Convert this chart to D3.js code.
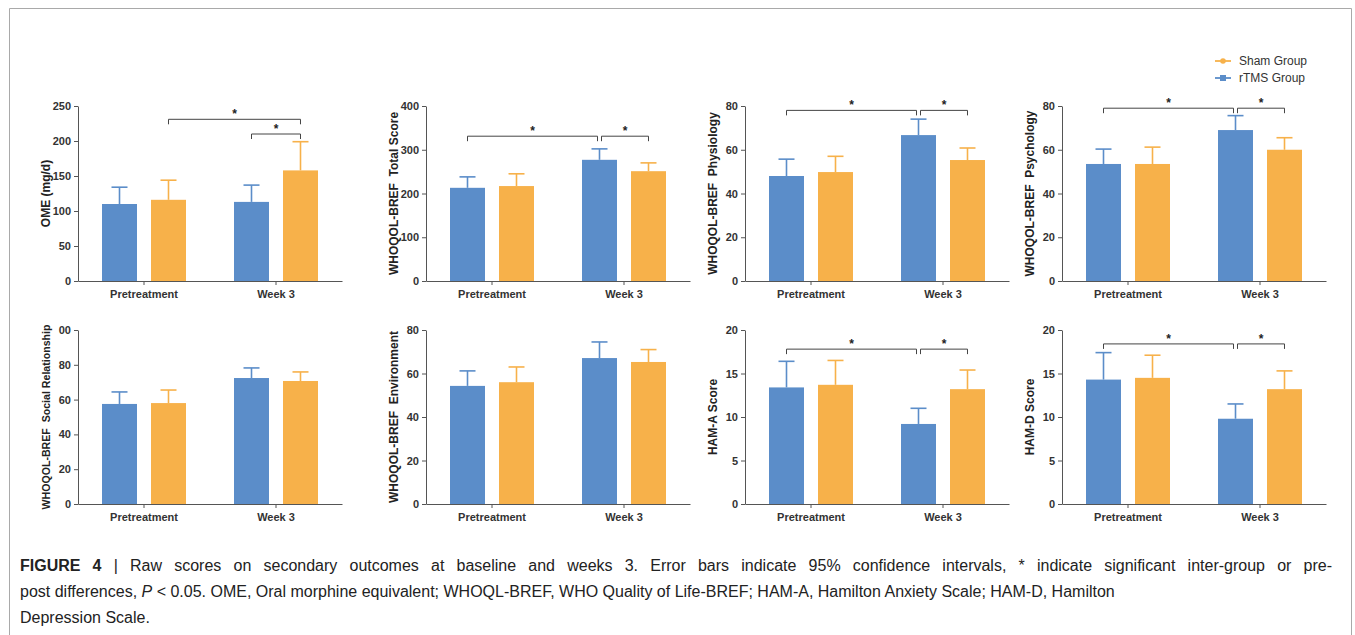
<!DOCTYPE html>
<html>
<head>
<meta charset="utf-8">
<script src="https://cdn.jsdelivr.net/npm/d3@7"></script>
<style>
  body { margin: 0; background: #fff; }
  svg { display: block; font-family: "Liberation Sans", Arial, sans-serif; }
  .tick text { font-weight: bold; font-size: 11px; fill: #333; }
  .domain, .tick line { stroke: #555; }
</style>
</head>
<body>
<svg id="fig" width="1355" height="635"></svg>
<script>
// categories and series
const categories = ["Pretreatment", "Week 3"];
const seriesNames = ["rTMS Group", "Sham Group"];
const seriesColors = ["#5b8dc9", "#f7b14a"];

// one entry per panel, left to right, top to bottom
const yTitles = ["OME (mg/d)", "WHOQOL-BREF  Total Score", "WHOQOL-BREF  Physiology", "WHOQOL-BREF  Psychology",
                 "WHOQOL-BREF  Social Relationship", "WHOQOL-BREF  Environment", "HAM-A Score", "HAM-D Score"];
const yMax = [250, 400, 80, 80, 100, 80, 20, 20];
const yTickValues = [
    [0, 50, 100, 150, 200, 250],
    [0, 100, 200, 300, 400],
    [0, 20, 40, 60, 80],
    [0, 20, 40, 60, 80],
    [0, 20, 40, 60, 80, 100],
    [0, 20, 40, 60, 80],
    [0, 5, 10, 15, 20],
    [0, 5, 10, 15, 20]
];
const yTickLabels = [
    ["0", "50", "100", "150", "200", "250"],
    ["0", "100", "200", "300", "400"],
    ["0", "20", "40", "60", "80"],
    ["0", "20", "40", "60", "80"],
    ["0", "20", "40", "60", "80", "00"],
    ["0", "20", "40", "60", "80"],
    ["0", "5", "10", "15", "20"],
    ["0", "5", "10", "15", "20"]
];

// means [Pretreatment, Week 3]
const rtmsMean  = [[110, 113], [213, 277], [48, 66.7], [53.5, 69], [57.5, 72.4], [54.3, 67.1], [13.4, 9.2], [14.3, 9.8]];
const rtmsUpper = [[134, 137], [238, 302], [55.7, 74], [60.3, 75.6], [64.4, 78.2], [61.2, 74.5], [16.4, 11], [17.4, 11.5]];
const shamMean  = [[116, 158], [217, 251], [49.8, 55.3], [53.5, 60], [58, 70.7], [56, 65.3], [13.7, 13.2], [14.5, 13.2]];
const shamUpper = [[144, 199], [245, 270], [57, 60.8], [61.2, 65.5], [65.5, 75.9], [63, 71], [16.5, 15.4], [17.1, 15.3]];

// significance brackets: from [category, series] to [category, series] at height y
const brackets = [
    [{from: [0, 1], to: [1, 1], y: 231}, {from: [1, 0], to: [1, 1], y: 210}],
    [{from: [0, 0], to: [1, 0], y: 331, endGap: true}, {from: [1, 0], to: [1, 1], y: 331, startGap: true}],
    [{from: [0, 0], to: [1, 0], y: 78, endGap: true}, {from: [1, 0], to: [1, 1], y: 78, startGap: true}],
    [{from: [0, 0], to: [1, 0], y: 79, endGap: true}, {from: [1, 0], to: [1, 1], y: 79, startGap: true}],
    [],
    [],
    [{from: [0, 0], to: [1, 0], y: 17.8, endGap: true}, {from: [1, 0], to: [1, 1], y: 17.8, startGap: true}],
    [{from: [0, 0], to: [1, 0], y: 18.4, endGap: true}, {from: [1, 0], to: [1, 1], y: 18.4, startGap: true}]
];

const svg = d3.select("#fig");

// figure frame
svg.append("path")
    .attr("d", "M9.5,640 V8.5 H1351.5 V640")
    .attr("fill", "none")
    .attr("stroke", "#a9a9a9")
    .attr("stroke-width", 1);

const colX = [78, 426, 745, 1062];
const rowTop = [106, 330];
const rowH = [175, 174];
const plotW = 264;

yTitles.forEach((title, i) => {
    let col = i % 4, row = Math.floor(i / 4);
    let x0 = colX[col], y0 = rowTop[row], h = rowH[row];

    let g = svg.append("g").attr("transform", "translate(" + x0 + "," + y0 + ")");

    let x = d3.scaleBand().domain(categories).range([0, plotW]);
    let xs = d3.scaleBand().domain(seriesNames).range([-42, 42]).paddingInner(0.2857);
    let y = d3.scaleLinear().domain([0, yMax[i]]).range([h, 0]);

    let rows = [];
    categories.forEach((c, ci) => {
        rows.push({cat: c, ser: 0, mean: rtmsMean[i][ci], upper: rtmsUpper[i][ci]});
        rows.push({cat: c, ser: 1, mean: shamMean[i][ci], upper: shamUpper[i][ci]});
    });
    let cx = d => x(d.cat) + x.bandwidth() / 2 + xs(seriesNames[d.ser]);

    // error bars (upper half)
    let eb = g.selectAll(".err").data(rows).enter().append("g")
        .attr("stroke", d => seriesColors[d.ser])
        .attr("stroke-width", 1.6);
    eb.append("line")
        .attr("x1", d => cx(d) + xs.bandwidth() / 2).attr("x2", d => cx(d) + xs.bandwidth() / 2)
        .attr("y1", d => y(d.mean)).attr("y2", d => y(d.upper));
    eb.append("line")
        .attr("x1", d => cx(d) + xs.bandwidth() / 2 - 8).attr("x2", d => cx(d) + xs.bandwidth() / 2 + 8)
        .attr("y1", d => y(d.upper)).attr("y2", d => y(d.upper));

    // bars
    g.selectAll(".bar").data(rows).enter().append("rect")
        .attr("x", d => cx(d))
        .attr("y", d => y(d.mean))
        .attr("width", xs.bandwidth())
        .attr("height", d => h - y(d.mean))
        .attr("fill", d => seriesColors[d.ser]);

    // axes
    let yAxis = d3.axisLeft(y).tickValues(yTickValues[i])
        .tickFormat((d, k) => yTickLabels[i][k]).tickSize(4).tickSizeOuter(0);
    g.append("g").call(yAxis);

    let xAxis = d3.axisBottom(x).tickSize(4).tickSizeOuter(0);
    let xa = g.append("g").attr("transform", "translate(0," + h + ")").call(xAxis);
    xa.selectAll("text").attr("dy", "0.95em");

    // y title
    g.append("text")
        .attr("transform", "translate(-32," + (h / 2) + ") rotate(-90)")
        .attr("text-anchor", "middle")
        .attr("dy", "0.35em")
        .style("font-weight", "bold")
        .style("font-size", i == 4 ? "10.6px" : "12px")
        .style("white-space", "pre")
        .attr("fill", "#222")
        .text(title);

    // significance brackets
    let bx = p => x(categories[p[0]]) + x.bandwidth() / 2 + xs(seriesNames[p[1]]) + xs.bandwidth() / 2;
    brackets[i].forEach(b => {
        let xa1 = bx(b.from) + (b.startGap ? 2 : 0);
        let xa2 = bx(b.to) - (b.endGap ? 2 : 0);
        let yy = y(b.y);
        g.append("path")
            .attr("d", "M" + xa1 + "," + (yy + 5) + " V" + yy + " H" + xa2 + " V" + (yy + 5))
            .attr("fill", "none")
            .attr("stroke", "#444")
            .attr("stroke-width", 1);
        g.append("text")
            .attr("x", (xa1 + xa2) / 2)
            .attr("y", yy - 1)
            .attr("text-anchor", "middle")
            .style("font-weight", "bold")
            .style("font-size", "12px")
            .attr("fill", "#222")
            .text("*");
    });
});

// legend
const legendY = [61, 78];
const legendOrder = [1, 0];
legendOrder.forEach((s, k) => {
    let lg = svg.append("g").attr("transform", "translate(1215," + legendY[k] + ")");
    lg.append("line").attr("x1", 0).attr("x2", 16).attr("stroke", seriesColors[s]).attr("stroke-width", 1.8);
    if (s == 1) {
        lg.append("circle").attr("cx", 8).attr("r", 2.8).attr("fill", seriesColors[s]);
    } else {
        lg.append("rect").attr("x", 5).attr("y", -3).attr("width", 6).attr("height", 6).attr("fill", seriesColors[s]);
    }
    lg.append("text").attr("x", 24).attr("dy", "0.35em")
        .style("font-size", "12px").attr("fill", "#333")
        .text(seriesNames[s]);
});

// caption
const cap = svg.append("g").attr("fill", "#222").style("font-size", "16px");
let l1 = cap.append("text").attr("x", 20).attr("y", 571);
l1.append("tspan").style("font-weight", "bold").text("FIGURE 4");
let l1rest = " | Raw scores on secondary outcomes at baseline and weeks 3. Error bars indicate 95% confidence intervals, * indicate significant inter-group or pre-";
l1.append("tspan").text(l1rest);
// first line is justified to the right edge
let spaces = (l1rest.match(/ /g) || []).length + 1;
let natural = l1.node().getComputedTextLength();
l1.style("word-spacing", ((1332 - 20 - natural) / spaces) + "px");

let l2 = cap.append("text").attr("x", 20).attr("y", 597);
l2.append("tspan").text("post differences, ");
l2.append("tspan").style("font-style", "italic").text("P");
l2.append("tspan").text(" < 0.05. OME, Oral morphine equivalent; WHOQL-BREF, WHO Quality of Life-BREF; HAM-A, Hamilton Anxiety Scale; HAM-D, Hamilton");
cap.append("text").attr("x", 20).attr("y", 623).text("Depression Scale.");
</script>
</body>
</html>
